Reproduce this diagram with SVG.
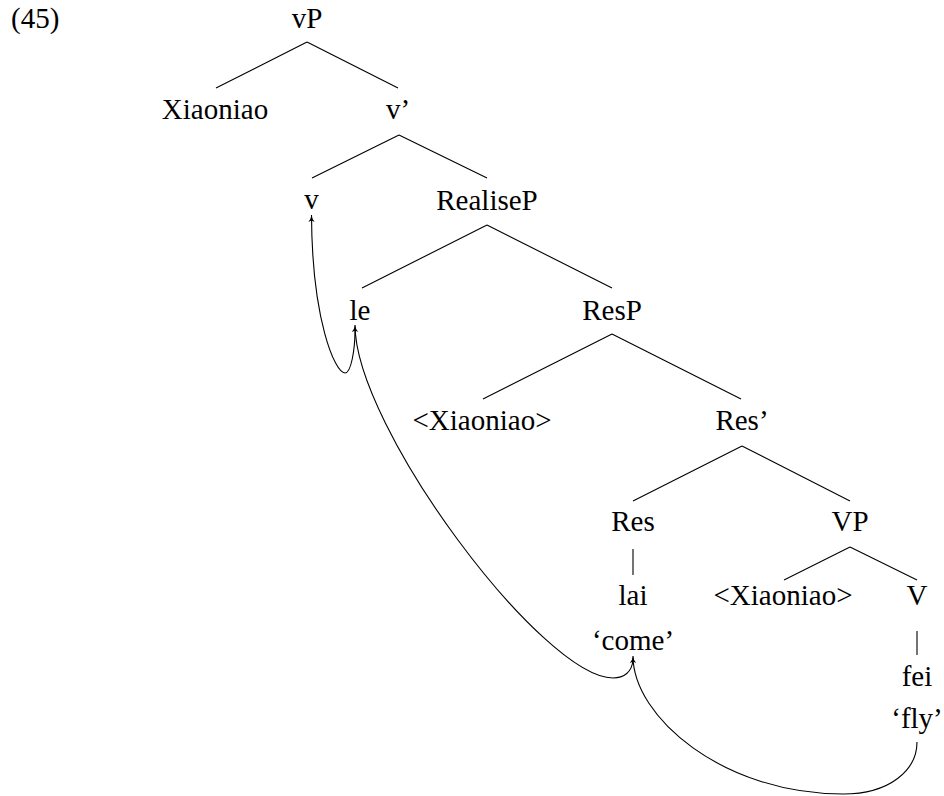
<svg xmlns="http://www.w3.org/2000/svg" width="944" height="796" viewBox="0 0 944 796">
<style>
text{font-size:29px;fill:#000;text-anchor:middle}
.edge{stroke:#000;stroke-width:1.1;fill:none}
.mv{stroke:#000;stroke-width:1.1;fill:none;marker-end:url(#ah)}
</style>
<defs>
<marker id="ah" viewBox="0 0 10 10" refX="10" refY="5" markerWidth="7" markerHeight="7" markerUnits="userSpaceOnUse" orient="auto">
<path d="M0,0.5 Q4,4 10,5 Q4,6 0,9.5 L2,5 z" fill="#000"/>
</marker>
</defs>
<rect width="944" height="796" fill="#fff"/>
<g font-family="Liberation Serif, serif">
<text x="11" y="28" style="text-anchor:start">(45)</text>
<g id="connectors">
<path class="edge" d="M307,42 L216,88 M307,42 L398,88"/>
<path class="edge" d="M399,135 L312,178 M399,135 L487,178"/>
<path class="edge" d="M487,225 L362,288 M487,225 L612,288"/>
<path class="edge" d="M612,334 L483,399 M612,334 L741,399"/>
<path class="edge" d="M742,446 L633,501 M742,446 L850,501"/>
<path class="edge" d="M633,549 L633,575"/>
<path class="edge" d="M850,547 L784,580 M850,547 L917,580"/>
<path class="edge" d="M917,631 L917,655"/>
<path class="mv" d="M917,742 C917,770 890,794 843,794 C723,794 633,717 633,656"/>
<path class="mv" d="M633,660 C632,672 624,678 613,678 C543,678 355,427 355,325"/>
<path class="mv" d="M355,330 C355,350 351,373 345,373 C335,373 312,320 311.5,215"/>
</g>
<g id="vP"><text x="307" y="28">vP</text></g>
<g id="Xiaoniao"><text x="215" y="119">Xiaoniao</text></g>
<g id="vbar"><text x="398" y="119">v’</text></g>
<g id="v"><text x="311.5" y="209">v</text></g>
<g id="RealiseP"><text x="487" y="210">RealiseP</text></g>
<g id="le"><text x="360" y="320">le</text></g>
<g id="ResP"><text x="612" y="320">ResP</text></g>
<g id="Xiaoniao2"><text x="482" y="430">&lt;Xiaoniao&gt;</text></g>
<g id="Resbar"><text x="742" y="430">Res’</text></g>
<g id="Res"><text x="633" y="531">Res</text></g>
<g id="VP"><text x="850" y="531">VP</text></g>
<g id="lai"><text x="633" y="605">lai</text><text x="633" y="650">‘come’</text></g>
<g id="Xiaoniao3"><text x="783" y="605">&lt;Xiaoniao&gt;</text></g>
<g id="V"><text x="917" y="605">V</text></g>
<g id="fei"><text x="917" y="686">fei</text><text x="917" y="728">‘fly’</text></g>
</g>
</svg>
